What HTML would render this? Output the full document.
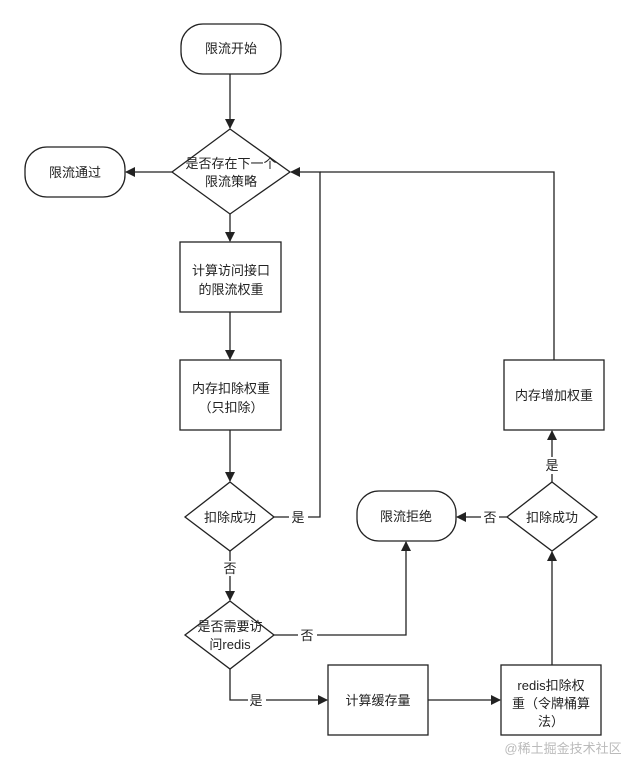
<!DOCTYPE html>
<html><head><meta charset="utf-8"><style>
html,body{margin:0;padding:0;background:#fff;width:627px;height:761px;overflow:hidden}
text{font-family:"Liberation Sans","Noto Sans CJK SC",sans-serif;font-size:13px;fill:#222}
</style></head><body>
<svg width="627" height="761" viewBox="0 0 627 761" xmlns="http://www.w3.org/2000/svg">
<defs><marker id="a" markerWidth="10" markerHeight="10" refX="9" refY="5" orient="auto" markerUnits="userSpaceOnUse"><path d="M0,0 L10,5 L0,10 Z" fill="#222"/></marker></defs>
<g fill="none" stroke="#222" stroke-width="1.3">
<rect x="181" y="24" width="100" height="50" rx="22"/>
<path d="M230,129 L290,172 L230,214 L172,172 Z"/>
<rect x="25" y="147" width="100" height="50" rx="22"/>
<rect x="180" y="242" width="101" height="70"/>
<rect x="180" y="360" width="101" height="70"/>
<rect x="504" y="360" width="100" height="70"/>
<path d="M230,482 L274,517 L230,551 L185,517 Z"/>
<path d="M230,601 L274,635 L230,669 L185,635 Z"/>
<rect x="357" y="491" width="99" height="50" rx="22"/>
<path d="M552,482 L597,517 L552,551 L507,517 Z"/>
<rect x="328" y="665" width="100" height="70"/>
<rect x="501" y="665" width="100" height="70"/>
<path d="M230,74 V128" marker-end="url(#a)"/>
<path d="M172,172 H126" marker-end="url(#a)"/>
<path d="M230,214 V241" marker-end="url(#a)"/>
<path d="M230,312 V359" marker-end="url(#a)"/>
<path d="M230,430 V481" marker-end="url(#a)"/>
<path d="M274,517 H289 M308,517 H320 V172 H291" marker-end="url(#a)"/>
<path d="M554,360 V172 H320"/>
<path d="M230,551 V561 M230,576 V600" marker-end="url(#a)"/>
<path d="M274,635 H298 M317,635 H406 V542" marker-end="url(#a)"/>
<path d="M230,669 V700 H248 M266,700 H327" marker-end="url(#a)"/>
<path d="M428,700 H500" marker-end="url(#a)"/>
<path d="M552,665 V552" marker-end="url(#a)"/>
<path d="M507,517 H499 M481,517 H457" marker-end="url(#a)"/>
<path d="M552,482 V474 M552,457 V431" marker-end="url(#a)"/>
</g>
<g text-anchor="middle">
<text x="231" y="53">限流开始</text>
<text x="231" y="168">是否存在下一个</text>
<text x="231" y="186">限流策略</text>
<text x="75" y="177">限流通过</text>
<text x="231" y="275">计算访问接口</text>
<text x="231" y="294">的限流权重</text>
<text x="231" y="393">内存扣除权重</text>
<text x="231" y="412">（只扣除）</text>
<text x="554" y="400">内存增加权重</text>
<text x="230" y="522">扣除成功</text>
<text x="298" y="522">是</text>
<text x="230" y="573">否</text>
<text x="230" y="631">是否需要访</text>
<text x="230" y="649">问redis</text>
<text x="307" y="640">否</text>
<text x="406" y="521">限流拒绝</text>
<text x="552" y="522">扣除成功</text>
<text x="490" y="522">否</text>
<text x="552" y="470">是</text>
<text x="256" y="705">是</text>
<text x="378" y="705">计算缓存量</text>
<text x="551" y="690">redis扣除权</text>
<text x="551" y="708">重（令牌桶算</text>
<text x="551" y="726">法）</text>
<text x="563" y="753" style="fill:#bbb;font-size:13px">@稀土掘金技术社区</text>
</g>
</svg>
</body></html>
